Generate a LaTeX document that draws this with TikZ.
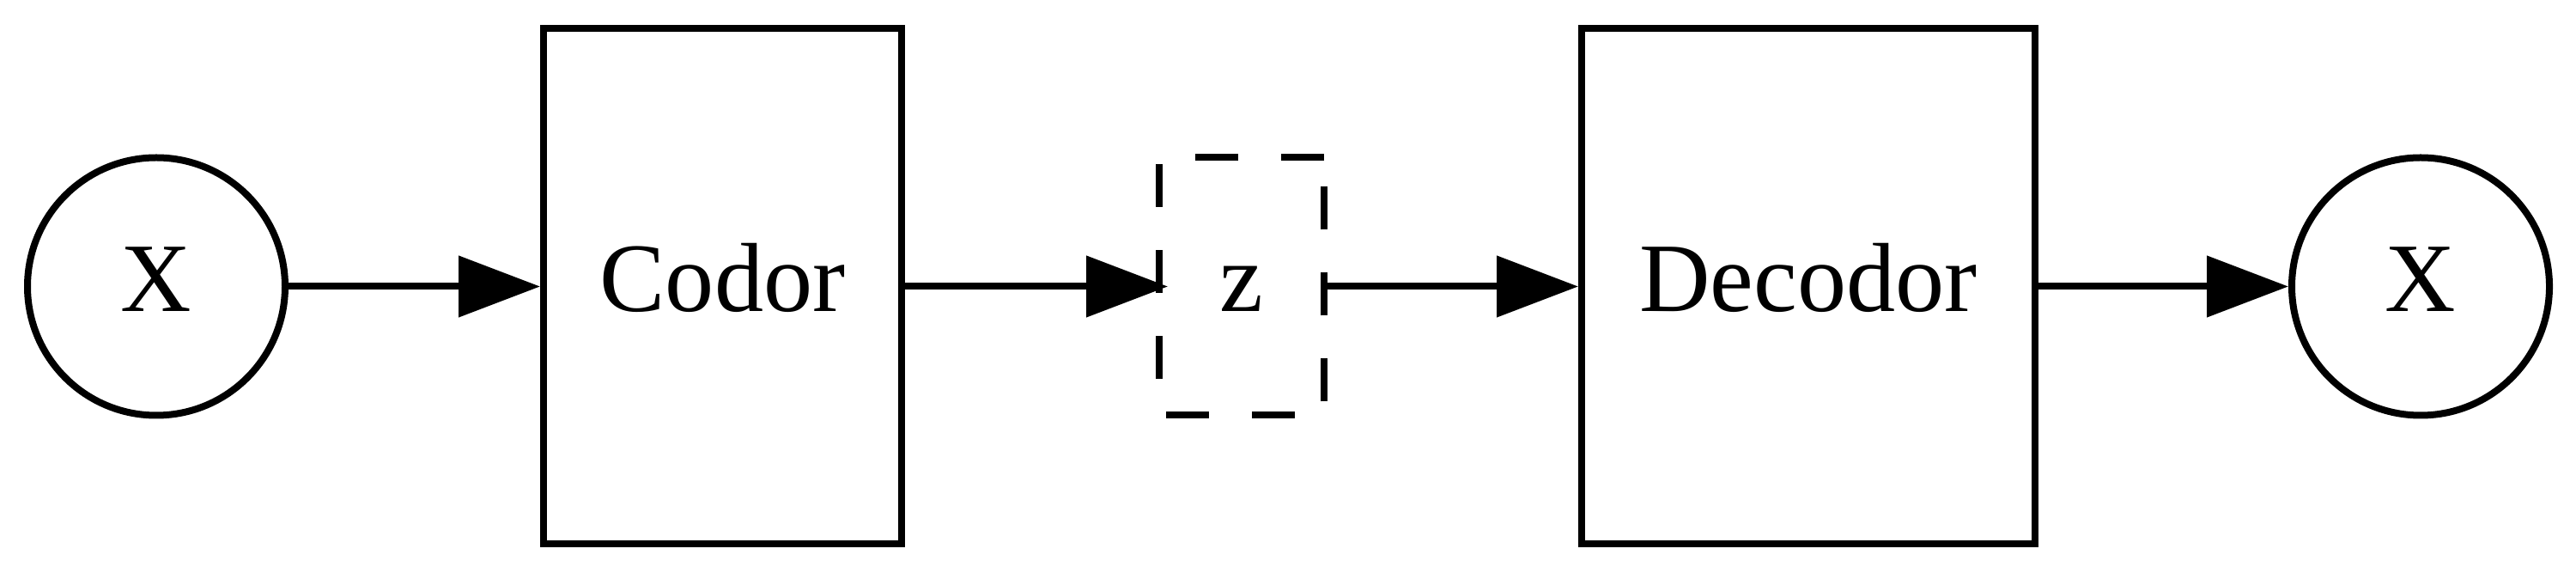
\documentclass[tikz,border=0pt]{standalone}
\usepackage{fontspec}
\setmainfont{Liberation Serif}
\usetikzlibrary{arrows.meta}
\tikzset{
  base/.style={inner sep=0pt, line width=0.08cm, text height=0.8cm, text depth=0.21cm,
    font=\fontsize{32.5pt}{39pt}\selectfont},
  ellnode/.style={base, draw, circle, minimum size=3.0cm},
  boxnode/.style={base, draw, rectangle, minimum height=6.0cm},
  latnode/.style={base, rectangle, outer sep=0pt, minimum width=1.92cm, minimum height=3.0cm},
  zdash/.style={line width=0.08cm, dash pattern=on 0.5cm off 0.5cm},
  conn/.style={line width=0.08cm, -{Triangle[length=0.95cm, width=0.70cm]}}
}
\begin{document}
\begin{tikzpicture}
\useasboundingbox (0,0) rectangle (30,6.67);
\node[ellnode] (x1) at (1.82,3.335) {X};
\node[boxnode, minimum width=4.17cm] (codor) at (8.415,3.335) {Codor};
\node[latnode] (z) at (14.46,3.335) {z};
\node[boxnode, minimum width=5.28cm] (decodor) at (21.06,3.335) {Decodor};
\node[ellnode] (x2) at (28.19,3.335) {X};
\draw[zdash] (z.north east) -- (z.north west) -- (z.south west) -- (z.south east) -- cycle;
\draw[conn] (x1) -- (codor);
\draw[conn, shorten >=-0.1cm] (codor) -- (z);
\draw[conn] (z) -- (decodor);
\draw[conn] (decodor) -- (x2);
\end{tikzpicture}
\end{document}
